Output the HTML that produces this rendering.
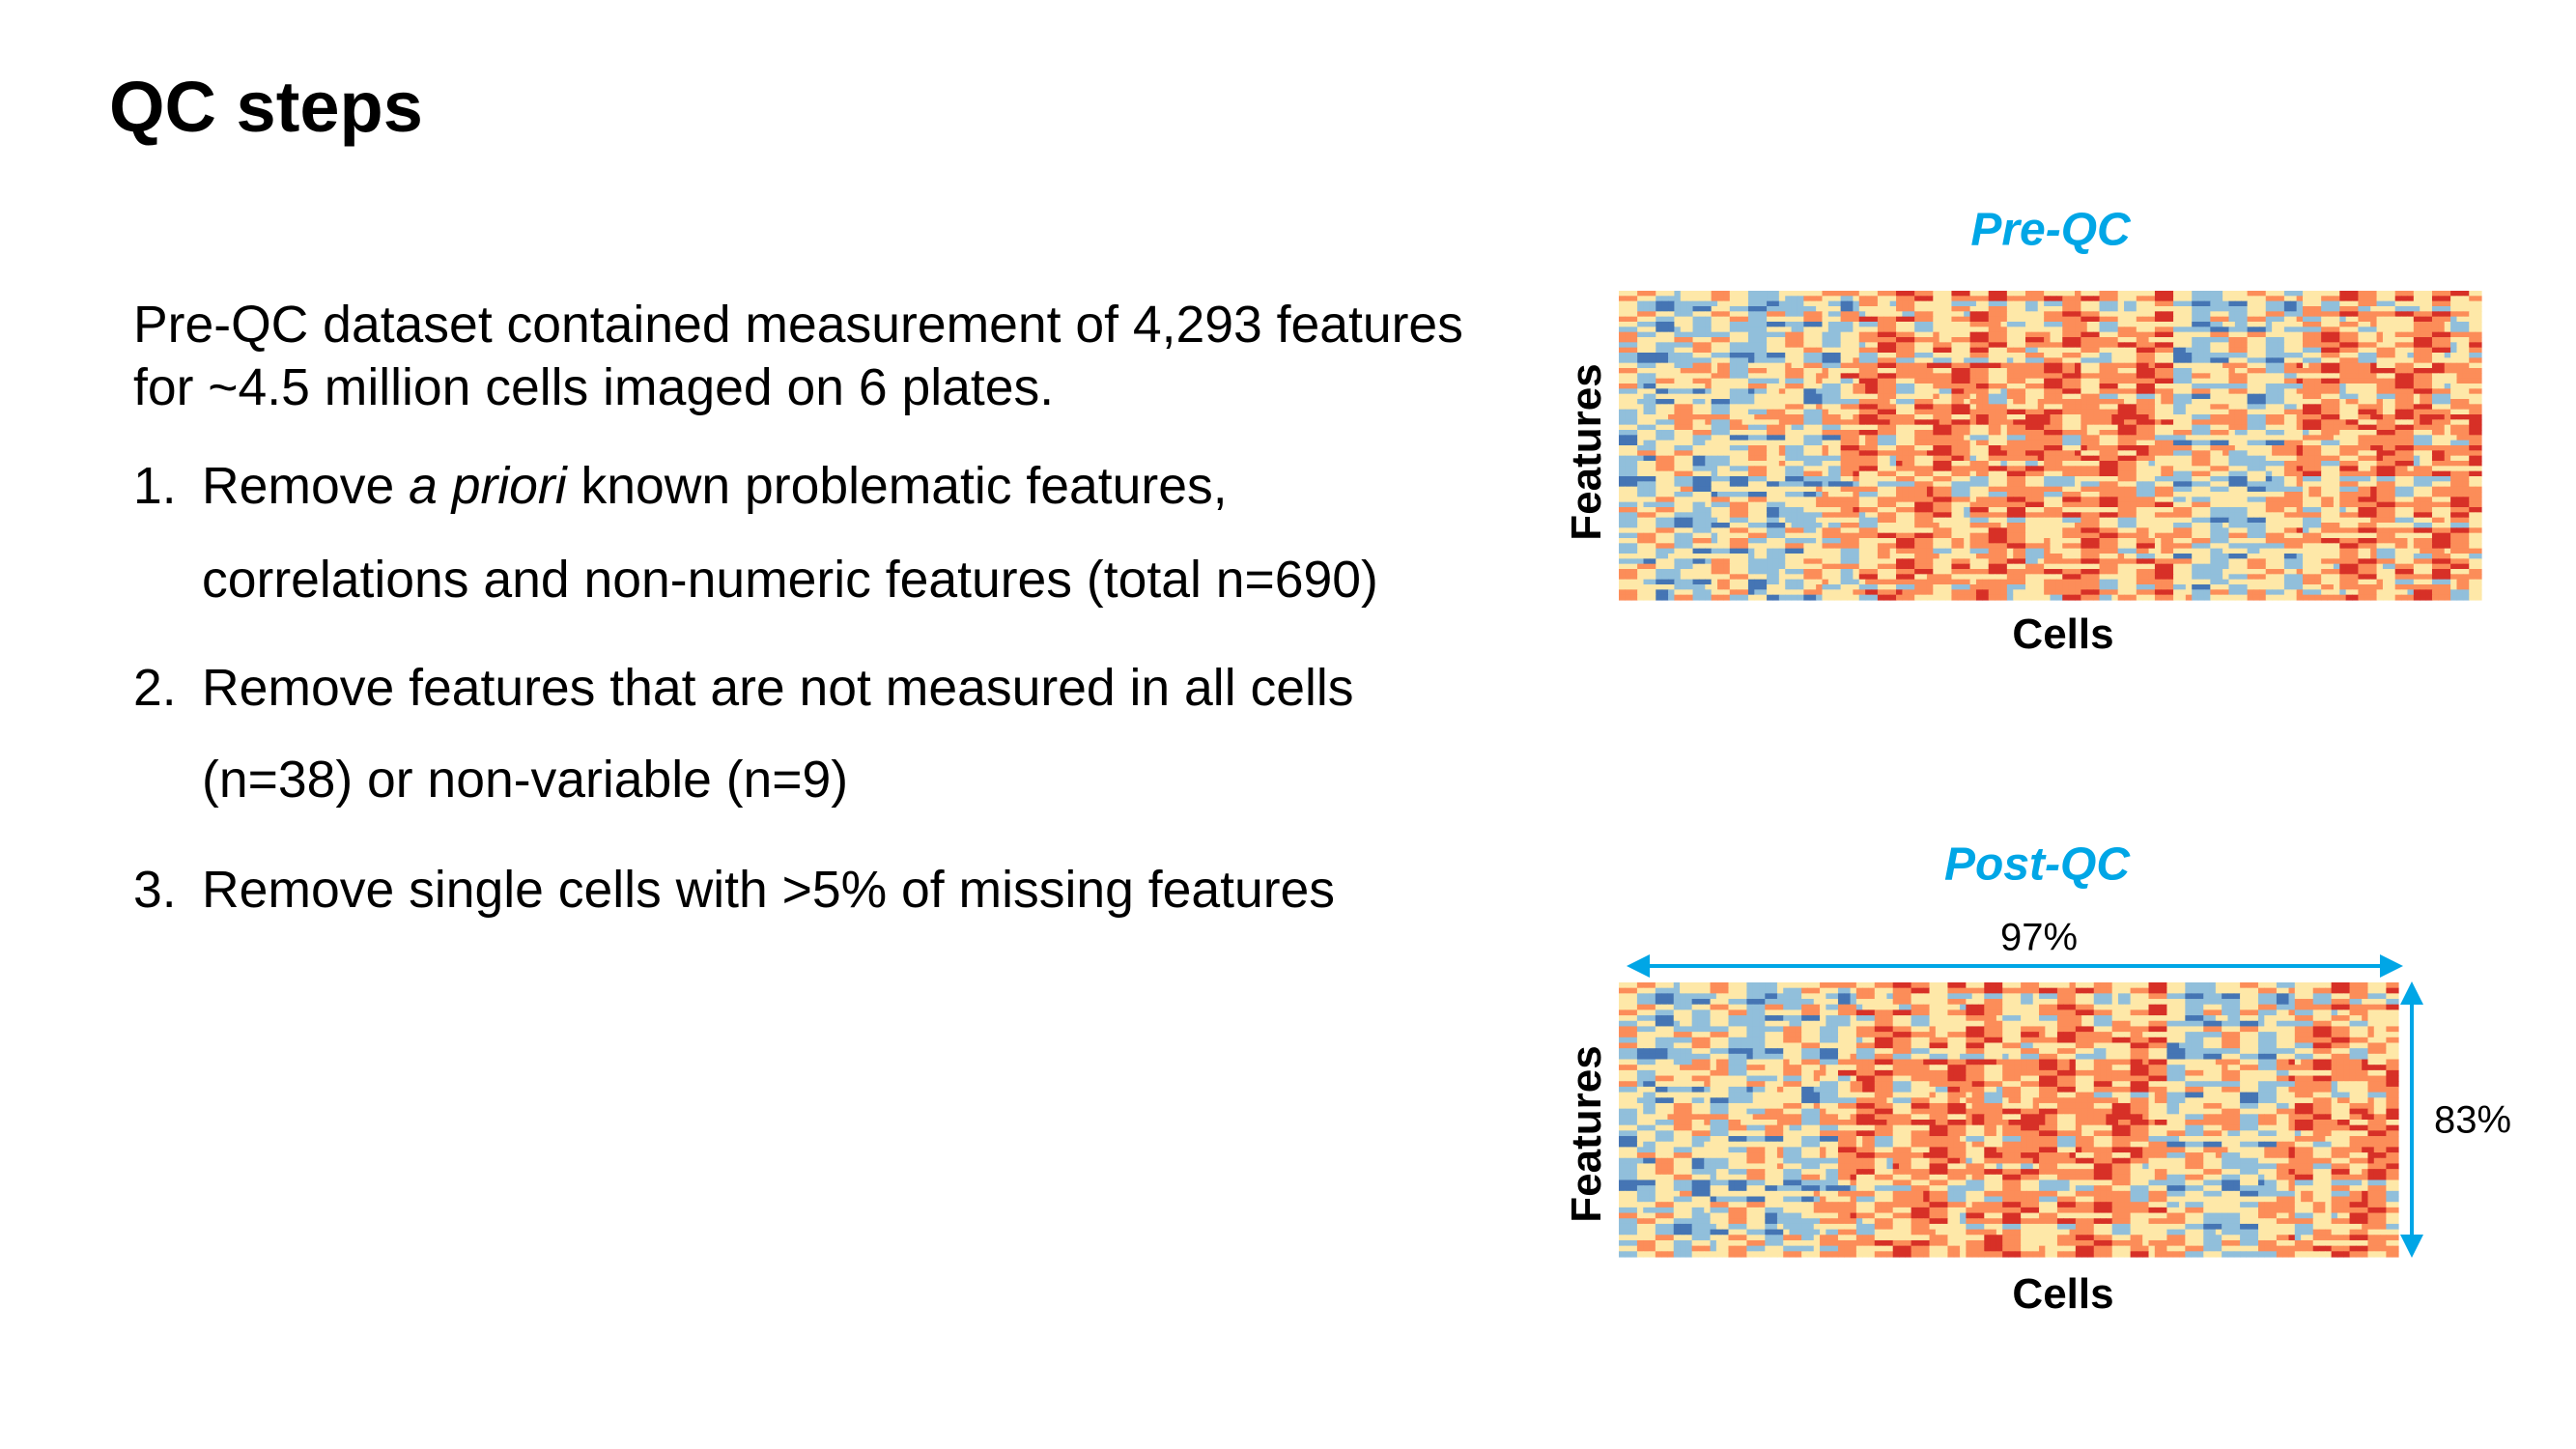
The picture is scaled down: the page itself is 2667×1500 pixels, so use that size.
<!DOCTYPE html>
<html><head><meta charset="utf-8">
<style>
body{margin:0;width:2667px;height:1500px;background:#fff;position:relative;overflow:hidden;font-family:"Liberation Sans",Arial,sans-serif;color:#000}
.a{position:absolute;white-space:nowrap}
.t{font-size:53.5px;line-height:1}
.blue{color:#00a6e6;font-weight:bold;font-style:italic;font-size:48px}
.lab{font-weight:bold;font-size:44px}
</style></head><body>
<div class="a" style="left:113px;top:68px;font-size:74px;font-weight:bold">QC steps</div>
<div class="a t" style="left:138px;top:310px">Pre-QC dataset contained measurement of 4,293 features</div>
<div class="a t" style="left:138px;top:375px">for ~4.5 million cells imaged on 6 plates.</div>
<div class="a t" style="left:138px;top:477px">1.</div>
<div class="a t" style="left:209px;top:477px">Remove <i>a priori</i> known problematic features,</div>
<div class="a t" style="left:209px;top:574px">correlations and non-numeric features (total n=690)</div>
<div class="a t" style="left:138px;top:686px">2.</div>
<div class="a t" style="left:209px;top:686px">Remove features that are not measured in all cells</div>
<div class="a t" style="left:209px;top:781px">(n=38) or non-variable (n=9)</div>
<div class="a t" style="left:138px;top:895px">3.</div>
<div class="a t" style="left:209px;top:895px">Remove single cells with &gt;5% of missing features</div>

<div class="a blue" style="left:2123px;top:238px;transform:translate(-50%,-50%)">Pre-QC</div>
<div class="a blue" style="left:2109px;top:895px;transform:translate(-50%,-50%)">Post-QC</div>
<div class="a lab" style="left:1643px;top:468px;transform:translate(-50%,-50%) rotate(-90deg)">Features</div>
<div class="a lab" style="left:2136px;top:657px;transform:translate(-50%,-50%)">Cells</div>
<div class="a lab" style="left:1643px;top:1174px;transform:translate(-50%,-50%) rotate(-90deg)">Features</div>
<div class="a lab" style="left:2136px;top:1340px;transform:translate(-50%,-50%)">Cells</div>
<div class="a" style="left:2111px;top:971px;transform:translate(-50%,-50%);font-size:40px">97%</div>
<div class="a" style="left:2560px;top:1160px;transform:translate(-50%,-50%);font-size:40px">83%</div>

<svg class="a" style="left:0;top:0" width="2667" height="1500">
<defs><marker id="ah" markerWidth="6" markerHeight="6" refX="5" refY="3" orient="auto-start-reverse"><path d="M0,0 L6,3 L0,6z" fill="#00a6e6"/></marker></defs>
<g id="pre"></g>
<g id="post"></g>
<line x1="1688" y1="1000" x2="2484" y2="1000" stroke="#00a6e6" stroke-width="4" marker-start="url(#ah)" marker-end="url(#ah)"/>
<line x1="2497" y1="1020" x2="2497" y2="1298" stroke="#00a6e6" stroke-width="4" marker-start="url(#ah)" marker-end="url(#ah)"/>
</svg>
<script>
// column bias per cell block (0..4 scale; higher = redder)
const colBias=[1.9,1.9,1.7,1.8,1.9,2,1.7,1.9,2.1,1.9,1.8,1.9,1.7,2,1.9,1.8,2.1,1.9,2.4,2.7,2.8,2.9,2.8,2.7,2.9,3,2.8,2.9,2.7,2.9,3,2.8,2.9,2.7,2.9,2.8,2.9,3,2.9,2.8,2.9,2.8,3,2.8,2.9,1.7,1.9,1.9,1.8,2,1.9,1.8,1.9,2,2.2,2.6,2.7,2.8,2.7,2.9,2.8,3,2.7,2.9,2.8,2.9,3,2.7,2.8,2.9];
const rowBias=[0.2,-0.6,0.1,-0.5,0.3,0.1,-0.7,0.5,0.4,0,-0.4,0.4,0.6,0.2,-0.3,0.5,0,0.3,-0.8,-0.2,0.4,0.1,-0.5,0.2,0.3,-0.4,0.1,0.2,-0.3,0];
const texture="21302312203122031220213023122032210233103212230212032";
const palette=["#4575b4","#91bfdb","#fee8a8","#fc8d59","#d73027"];
function draw(gid,x0,y0,w,h,nbc,nbr){
  const g=document.getElementById(gid);
  const ncols=nbc*2, nrows=nbr*2;
  const cw=w/ncols, rh=h/nrows;
  for(let r=0;r<nrows;r++)for(let c=0;c<ncols;c++){
    const t=+texture[(r*5+Math.floor(c/3)*2)%texture.length]-2;
    let v=Math.round(colBias[Math.floor(c/2)]+rowBias[Math.floor(r/2)]+t*0.7);
    v=Math.max(0,Math.min(4,v));
    const e=document.createElementNS("http://www.w3.org/2000/svg","rect");
    
    
    e.setAttribute("x",x0+c*cw);e.setAttribute("y",y0+r*rh);
    e.setAttribute("width",cw+0.6);e.setAttribute("height",rh+0.6);
    e.setAttribute("fill",palette[v]);g.appendChild(e);
  }
}
draw("pre",1676,301,893,320,colBias.length,rowBias.length);
draw("post",1676,1017,807,284,colBias.length-6,rowBias.length-5);
</script>
</body></html>
